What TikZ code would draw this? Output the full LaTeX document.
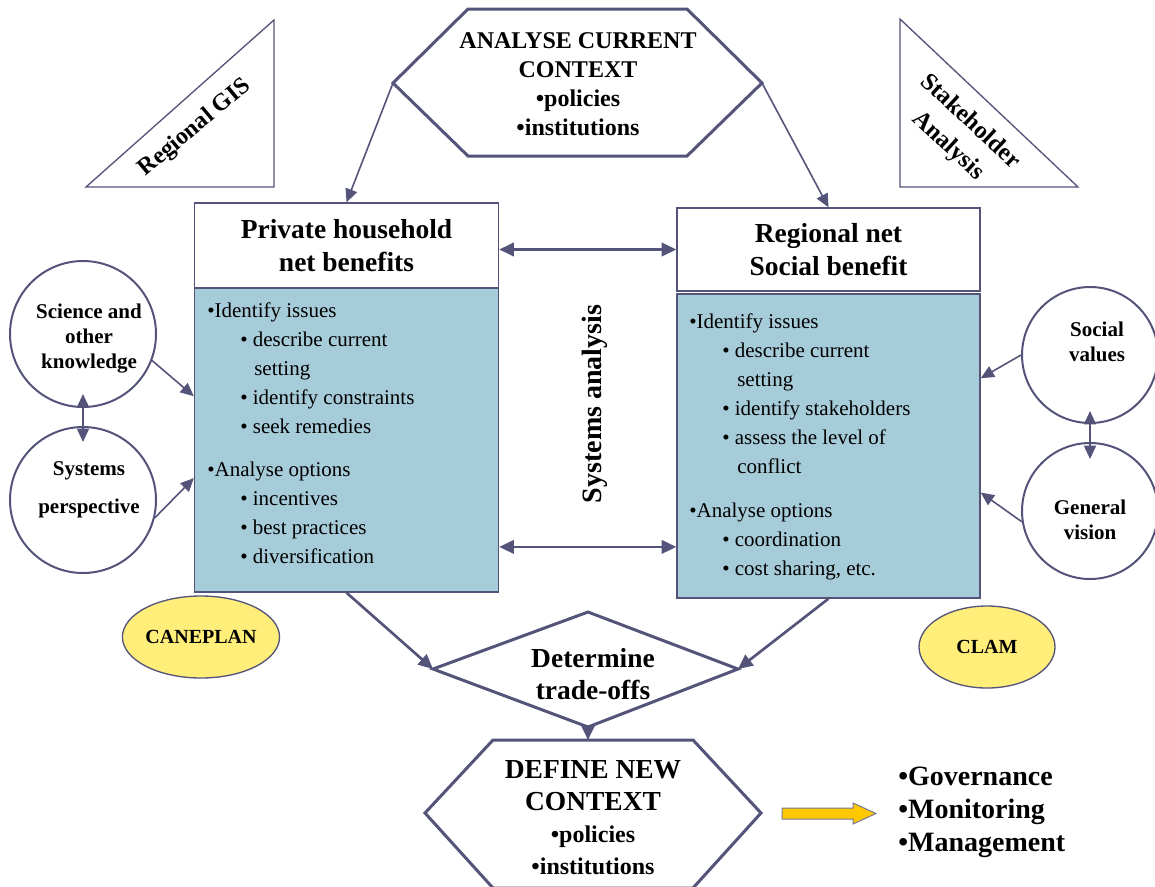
\documentclass[tikz,border=0pt]{standalone}
\usepackage{fontspec}
\setmainfont{Liberation Serif}
\usetikzlibrary{arrows.meta,shapes.geometric}

\definecolor{slateline}{RGB}{84,84,122}
\definecolor{panelblue}{RGB}{166,203,217}
\definecolor{toolyellow}{RGB}{255,238,122}
\definecolor{goldarrow}{RGB}{255,200,0}

\tikzset{
  flow/.style={draw=slateline, line width=2pt, -{Triangle[length=11pt,width=10pt]}},
  feed/.style={draw=slateline, line width=1.2pt, -{Triangle[length=10pt,width=9pt]}},
  twoway/.style={draw=slateline, line width=2pt, {Triangle[length=11pt,width=10pt]}-{Triangle[length=11pt,width=10pt]}},
  feedboth/.style={draw=slateline, line width=1.2pt, {Triangle[length=10pt,width=9pt]}-{Triangle[length=10pt,width=9pt]}},
  headbox/.style={draw=slateline, line width=1pt, fill=white, inner sep=0pt, align=center, font=\fontsize{20.6}{24.75}\selectfont\bfseries},
  panel/.style={draw=slateline, line width=1pt, fill=panelblue, inner sep=0pt},
  listtext/.style={anchor=north west, inner sep=0pt, align=left, font=\fontsize{15.75}{21.75}\selectfont},
  bubble/.style={circle, draw=slateline, line width=1.5pt, fill=white, inner sep=0pt},
  bubbletext/.style={align=center, inner sep=0pt, font=\fontsize{15.75}{18.75}\selectfont\bfseries},
  tool/.style={ellipse, draw=slateline, line width=1pt, fill=toolyellow, minimum width=102pt, minimum height=61.5pt, inner sep=0pt, font=\fontsize{15}{18}\selectfont\bfseries},
  shapeline/.style={draw=slateline, line width=2.25pt, fill=white},
  bigtext/.style={align=center, inner sep=0pt, font=\fontsize{18}{21.75}\selectfont\bfseries}
}

\begin{document}
\begin{tikzpicture}[x=0.75pt,y=0.75pt,yscale=-1,xscale=1]
\useasboundingbox (0,0) rectangle (1155,886);

%Shape: Triangle [Regional GIS]
\draw [draw=slateline, line width=1pt] (86,187) -- (274,187) -- (274,20) -- cycle ;
\node [rotate=40, font=\fontsize{18}{21}\selectfont\bfseries] (gis) at (195,128) {Regional GIS};

%Shape: Triangle [Stakeholder]
\draw [draw=slateline, line width=1pt] (900,19) -- (900,187) -- (1078,187) -- cycle ;
\node [rotate=-43, align=center, font=\fontsize{18.4}{24.75}\selectfont\bfseries] (stake) at (959,134) {Stakeholder\\ Analysis};

%Shape: Hexagon [current context]
\coordinate (ctxW) at (393,83);
\coordinate (ctxE) at (762,83);
\draw [shapeline] (468,9) -- (687,9) -- (ctxE) -- (687,156) -- (468,156) -- (ctxW) -- cycle ;
\node [bigtext] (ctxtxt) at (578,84) {ANALYSE CURRENT\\ CONTEXT\\ •policies\\ •institutions};

% Boxes
\node [headbox, minimum width=228pt, minimum height=63.75pt] (privhead) at (346.5,245.5) {Private household\\ net benefits};
\node [panel, minimum width=228pt, minimum height=228pt] (privbody) at (346.5,440) {};
\node [headbox, minimum width=227.25pt, minimum height=62.25pt] (sochead) at (828.5,249.5) {Regional net\\ Social benefit};
\node [panel, minimum width=227.25pt, minimum height=228pt] (socbody) at (828.5,446) {};

% Text Node
\node [listtext] (privlist) at (207,302) {•Identify issues\\
  \hspace*{24.75pt}• describe current\\
  \hspace*{35.25pt}setting\\
  \hspace*{24.75pt}• identify constraints\\
  \hspace*{24.75pt}• seek remedies\\[11pt]
  •Analyse options\\
  \hspace*{24.75pt}• incentives\\
  \hspace*{24.75pt}• best practices\\
  \hspace*{24.75pt}• diversification};
% Text Node
\node [listtext] (soclist) at (689,313) {•Identify issues\\
  \hspace*{24.75pt}• describe current\\
  \hspace*{36pt}setting\\
  \hspace*{24.75pt}• identify stakeholders\\
  \hspace*{24.75pt}• assess the level of\\
  \hspace*{36pt}conflict\\[11.25pt]
  •Analyse options\\
  \hspace*{24.75pt}• coordination\\
  \hspace*{24.75pt}• cost sharing, etc.};
% Text Node
\node [rotate=90, font=\fontsize{21}{24}\selectfont\bfseries] (sysana) at (595,404) {Systems analysis};

%Shape: Circles
\node [bubble, minimum size=109.5pt] (sci) at (83,334) {};
\node [bubble, minimum size=109.5pt] (sys) at (83,500) {};
\node [bubble, minimum size=102pt] (socval) at (1090,355) {};
\node [bubble, minimum size=102pt] (genvis) at (1090,511) {};
\node [bubbletext] (scitxt) at (89,339) {Science and\\ other\\ knowledge};
\node [bubbletext] (systxt) at (89,490) {Systems\\[9.75pt] perspective};
\node [bubbletext] (socvaltxt) at (1097,342) {Social\\ values};
\node [bubbletext] (genvistxt) at (1090,520) {General\\ vision};

%Shape: Ellipse
\node [tool] (caneplan) at (201,637) {CANEPLAN};
\node [tool] (clam) at (987,647) {CLAM};

%Shape: Diamond [trade-offs]
\coordinate (tradeN) at (588,612);
\coordinate (tradeW) at (433,669);
\coordinate (tradeE) at (738,669);
\coordinate (tradeS) at (588,727);
\draw [shapeline] (tradeN) -- (tradeE) -- (tradeS) -- (tradeW) -- cycle ;
\node [align=center, inner sep=0pt, font=\fontsize{20.6}{24}\selectfont\bfseries] (tradetxt) at (593,674) {Determine\\ trade-offs};

%Shape: Hexagon [new context]
\coordinate (newN) at (588,740);
\draw [shapeline] (493,740) -- (693,740) -- (761,813) -- (693,888) -- (493,888) -- (425,813) -- cycle ;
\node [align=center, inner sep=0pt, font=\fontsize{20.6}{24}\selectfont\bfseries] (newtxt) at (593,818) {DEFINE NEW\\ CONTEXT\\ {\fontsize{18}{21.75}\selectfont •policies}\\ {\fontsize{18}{21.75}\selectfont •institutions}};

%Shape: Block arrow
\draw [draw=slateline!80, line width=0.75pt, fill=goldarrow] (782,808) -- (853,808) -- (853,803) -- (876,813.5) -- (853,824) -- (853,819) -- (782,819) -- cycle ;
\node [anchor=west, align=left, inner sep=0pt, font=\fontsize{21}{24.75}\selectfont\bfseries] (tasks) at (898,812) {•Governance\\ •Monitoring\\ •Management};

% Connectors
\draw [feed] (ctxW) -- (privhead.north) ;
\draw [feed] (ctxE) -- (sochead.north) ;
\draw [twoway] (privhead.east |- sochead.west) -- (sochead.west) ;
\draw [twoway] (privbody.-35.7) -- (privbody.-35.7 -| socbody.west) ;
\draw [feed] (sci.-21) -- (privbody.164.5) ;
\draw [feed] (sys.-14) -- (privbody.-166.3) ;
\draw [feed] (socval.west) -- (socbody.24.8) ;
\draw [feed] (genvis.-171) -- (socbody.-17.2) ;
\draw [feedboth, shorten <=-10.5pt, shorten >=-12pt] (sci.south) -- (sys.north) ;
\draw [feedboth, shorten <=-9.75pt, shorten >=-12.75pt] (socval.south) -- (genvis.north) ;
\draw [flow] (privbody.south) -- (tradeW) ;
\draw [flow] (socbody.south) -- (tradeE) ;
\draw [flow] (tradeS) -- (newN) ;

\end{tikzpicture}
\end{document}
